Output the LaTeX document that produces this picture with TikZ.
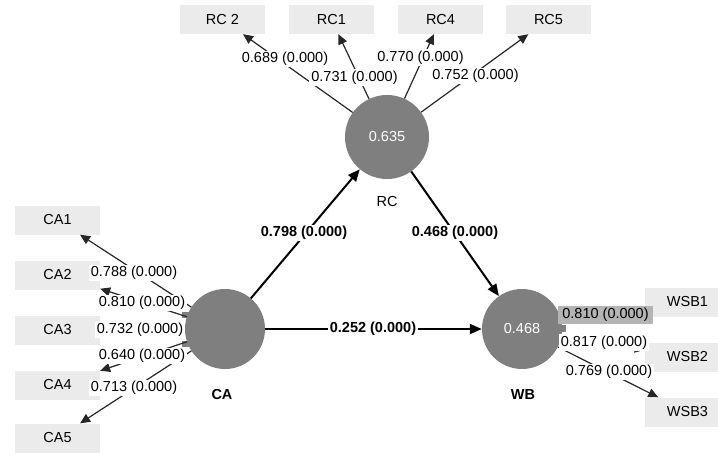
\documentclass[tikz,border=0pt]{standalone}
\usepackage{fontspec}
\setmainfont{Liberation Sans}
\usetikzlibrary{arrows.meta}
\definecolor{circgray}{HTML}{7F7F7F}
\definecolor{boxgray}{HTML}{EBEBEB}
\definecolor{hlgray}{HTML}{B4B4B4}
\begin{document}
\begin{tikzpicture}[x=1pt,y=-1pt, font=\fontsize{14.5}{17}\selectfont,
  lv/.style={circle, fill=circgray, minimum size=80pt, inner sep=0pt, text=white},
  ind/.style={rectangle, fill=boxgray, minimum width=85pt, minimum height=29pt, inner sep=0pt},
  lbl/.style={fill=white, inner xsep=2pt, inner ysep=1.5pt},
  ia/.style={-{Triangle[length=10pt,width=9pt]}, line width=1.2pt, draw=black!85},
  ma/.style={-{Triangle[length=12pt,width=10pt]}, line width=2pt},
  cname/.style={inner sep=1pt}]
\useasboundingbox (0,0) rectangle (718,455);
\fill[white] (0,0) rectangle (718,455);

% indicator boxes
\node[ind] (RC2) at (222.5,19.5) {RC 2};
\node[ind] (RC1) at (331.5,19.5) {RC1};
\node[ind] (RC4) at (440.5,19.5) {RC4};
\node[ind] (RC5) at (548.5,19.5) {RC5};
\node[ind] (CA1) at (57.5,220) {CA1};
\node[ind] (CA2) at (57.5,275) {CA2};
\node[ind] (CA3) at (57.5,330) {CA3};
\node[ind] (CA4) at (57.5,385) {CA4};
\node[ind] (CA5) at (57.5,438) {CA5};
\node[ind] (WSB1) at (687.5,302) {WSB1};
\node[ind] (WSB2) at (687.5,357) {WSB2};
\node[ind] (WSB3) at (687.5,412) {WSB3};

% stubs
\fill[circgray] (182,312) rectangle (192,318);
\fill[circgray] (182,341) rectangle (192,347);
\fill[circgray] (556,325) rectangle (566,332);

% latent variables
\node[lv, minimum size=84pt] (RC) at (387,137) {0.635};
\node[lv, minimum size=80pt] (CA) at (225,329) {};
\node[lv, minimum size=80pt] (WB) at (522,329) {0.468};

\node[cname] (RCn) at (387,202) {RC};
\node[cname, font=\fontsize{14.5}{17}\selectfont\bfseries] (CAn) at (222,395) {CA};
\node[cname, font=\fontsize{14.5}{17}\selectfont\bfseries] (WBn) at (523,395) {WB};

% indicator arrows
\draw[ia] (RC) -- (RC2);
\draw[ia] (RC) -- (RC1);
\draw[ia] (RC) -- (RC4);
\draw[ia] (RC) -- (RC5);
\draw[ia] (CA) -- (CA1);
\draw[ia] (CA) -- (CA2);
\draw[ia] (CA) -- (CA3);
\draw[ia] (CA) -- (CA4);
\draw[ia] (CA) -- (CA5);
\draw[ia] (WB) -- (WSB1);
\draw[ia] (WB) -- (WSB2);
\draw[ia] (WB) -- (WSB3);

% structural arrows
\draw[ma] (CA) -- (RC);
\draw[ma] (RC) -- (WB);
\draw[ma] (CA) -- (WB);

% loading labels
\node[lbl] (l1) at (285,59) {0.689 (0.000)};
\node[lbl] (l2) at (354.5,77.5) {0.731 (0.000)};
\node[lbl] (l3) at (420.5,57.5) {0.770 (0.000)};
\node[lbl] (l4) at (475.5,76) {0.752 (0.000)};

\node[lbl] (l5) at (134,273) {0.788 (0.000)};
\node[lbl] (l6) at (142,303) {0.810 (0.000)};
\node[lbl] (l7) at (140,330) {0.732 (0.000)};
\node[lbl] (l8) at (142,356) {0.640 (0.000)};
\node[lbl] (l9) at (134,388) {0.713 (0.000)};

\node[lbl, fill=hlgray, inner xsep=4.5pt, inner ysep=2.5pt] (l10) at (605.5,315) {0.810 (0.000)};
\node[lbl] (l11) at (604,342.5) {0.817 (0.000)};
\node[lbl] (l12) at (609,372) {0.769 (0.000)};

% path labels
\node[lbl, font=\fontsize{14.5}{17}\selectfont\bfseries] (p1) at (304,233) {0.798 (0.000)};
\node[lbl, font=\fontsize{14.5}{17}\selectfont\bfseries] (p2) at (455,233) {0.468 (0.000)};
\node[lbl, font=\fontsize{14.5}{17}\selectfont\bfseries] (p3) at (373,329) {0.252 (0.000)};
\end{tikzpicture}
\end{document}
